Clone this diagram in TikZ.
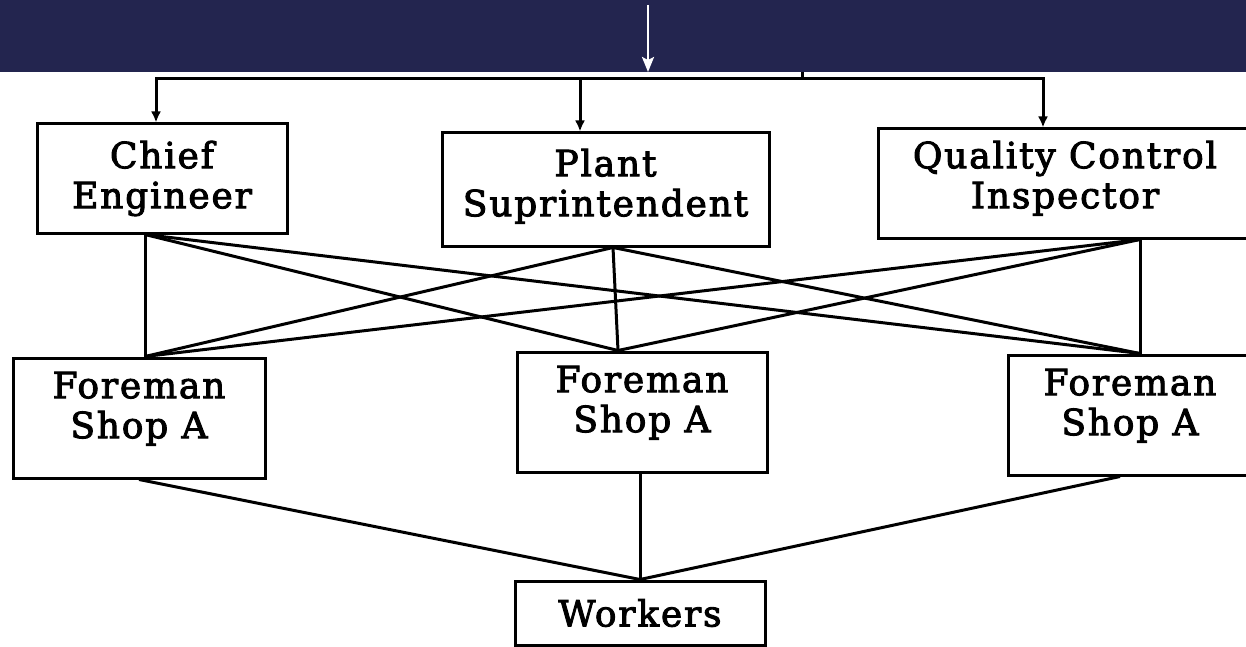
\documentclass[tikz,border=0pt]{standalone}
\usepackage{fontspec}
\setmainfont{DejaVu Serif}
\newfontfamily\boxfont{DejaVu Serif}[FakeBold=2.6, LetterSpace=5]
\usetikzlibrary{arrows.meta}
\definecolor{bandblue}{HTML}{23254F}
\tikzset{
  box/.style={draw=black, line width=3pt, align=center, inner sep=0pt,
    font=\boxfont\fontsize{36pt}{40pt}\selectfont},
  link/.style={draw=black, line width=3pt},
  feedarrow/.style={link, -{Latex[length=11pt,width=10pt]}},
}
\begin{document}
\begin{tikzpicture}[x=1pt, y=-1pt]
\useasboundingbox (0,0) rectangle (1246,647);
\fill[white] (0,0) rectangle (1246,647);

% header band with incoming arrow
\fill[bandblue] (0,0) rectangle (1246,72);
\coordinate (in) at (648,5);
\coordinate (inend) at (648,72);
\draw[white, line width=2.4pt, -{Stealth[length=15pt,width=12pt,inset=3pt]}] (in) -- (inend);

% managers
\node[box, minimum width=250pt, minimum height=109pt] (ce) at (162,178.5) {Chief\\Engineer};
\node[box, minimum width=327pt, minimum height=113pt, text depth=14pt] (ps) at (605.5,189.5) {Plant\\Suprintendent};
\node[box, minimum width=374pt, minimum height=109pt, text depth=18pt] (qc) at (1065,183.5) {Quality Control\\Inspector};

% foremen
\node[box, minimum width=252pt, minimum height=120pt, text depth=26pt] (f1) at (139,418) {Foreman\\Shop A};
\node[box, minimum width=250pt, minimum height=120pt, text depth=26pt] (f2) at (642,412) {Foreman\\Shop A};
\node[box, minimum width=244pt, minimum height=120pt, text depth=26pt] (f3) at (1130,415) {Foreman\\Shop A};

% workers
\node[box, minimum width=250pt, minimum height=64pt] (w) at (640,613) {Workers};

% distribution bus from above
\coordinate (feed) at (802,72);
\coordinate (bus) at (802,79);
\draw[link] (feed) -- (bus);
\draw[feedarrow] (bus) -| ([xshift=-6pt]ce.north);
\draw[feedarrow] (bus) -| ([xshift=-22pt]qc.north);
\draw[feedarrow] ([xshift=-25.5pt]ps.north |- bus) -- ([xshift=-25.5pt]ps.north);

% connection points
\coordinate (ceb) at ([xshift=-17pt]ce.south);
\coordinate (psb) at ([xshift=7.5pt]ps.south);
\coordinate (qcb) at ([xshift=75pt]qc.south);
\coordinate (f1t) at ([xshift=6pt]f1.north);
\coordinate (f2t) at ([xshift=-24pt]f2.north);
\coordinate (f3t) at ([xshift=10pt]f3.north);

% every manager to every foreman
\foreach \m in {ceb,psb,qcb}
  \foreach \f in {f1t,f2t,f3t}
    \draw[link] (\m) -- (\f);

% foremen to workers
\draw[link] (f1.south) -- (w.north);
\draw[link] ([xshift=-2pt]f2.south) -- (w.north);
\draw[link] ([xshift=-10pt]f3.south) -- (w.north);
\end{tikzpicture}
\end{document}
